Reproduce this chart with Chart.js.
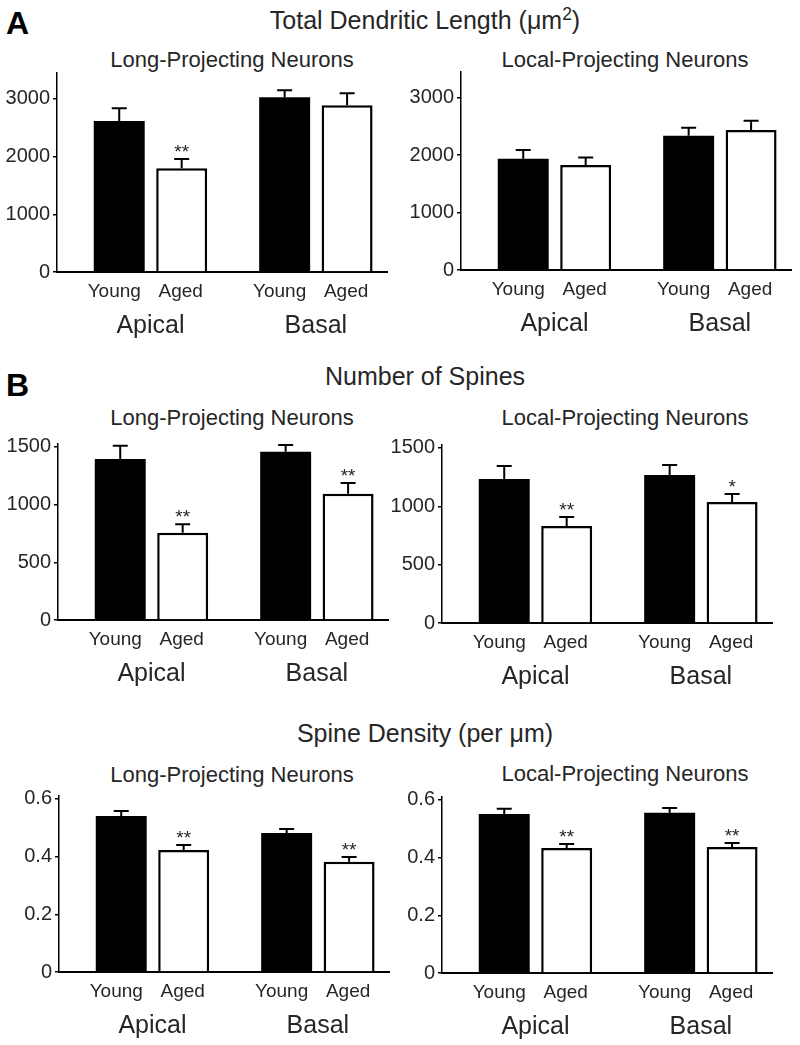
<!DOCTYPE html>
<html>
<head>
<meta charset="utf-8">
<script src="https://cdn.jsdelivr.net/npm/chart.js@4"></script>
<style>
    body {
        margin: 0;
        width: 800px;
        height: 1045px;
        position: relative;
        overflow: hidden;
        background: #fff;
        font-family: "Liberation Sans", Arial, sans-serif;
        color: #262626;
    }
    canvas { position: absolute; }
    .t {
        position: absolute;
        transform: translate(-50%, -50%);
        white-space: nowrap;
        line-height: 1;
    }
    .main { font-size: 25px; }
    .sub { font-size: 22px; }
    .letter { font-size: 32px; font-weight: bold; color: #000; transform: none; }
    sup { font-size: 0.7em; vertical-align: 0.5em; line-height: 0; }
</style>
</head>
<body>
<div class="t letter" style="left:6px;top:7px;">A</div>
<div class="t main" style="left:425px;top:20px;">Total Dendritic Length (μm<sup>2</sup>)</div>
<div class="t sub" style="left:232px;top:60px;">Long-Projecting Neurons</div>
<div class="t sub" style="left:625px;top:60px;">Local-Projecting Neurons</div>

<div class="t letter" style="left:6px;top:369px;">B</div>
<div class="t main" style="left:425px;top:376px;">Number of Spines</div>
<div class="t sub" style="left:232px;top:418px;">Long-Projecting Neurons</div>
<div class="t sub" style="left:625px;top:418px;">Local-Projecting Neurons</div>

<div class="t main" style="left:425px;top:733px;">Spine Density (per μm)</div>
<div class="t sub" style="left:232px;top:775px;">Long-Projecting Neurons</div>
<div class="t sub" style="left:625px;top:774px;">Local-Projecting Neurons</div>

<canvas id="c1"></canvas>
<canvas id="c2"></canvas>
<canvas id="c3"></canvas>
<canvas id="c4"></canvas>
<canvas id="c5"></canvas>
<canvas id="c6"></canvas>

<script>
// groups and ages
const groups = ["Apical", "Basal"];
const ages = ["Young", "Aged"];

// total dendritic length
const lengthLongYoung = [2620, 3030];
const lengthLongYoungSem = [220, 120];
const lengthLongAged = [1800, 2890];
const lengthLongAgedSem = [160, 210];
const lengthLongStars = ["**", ""];

const lengthLocalYoung = [1940, 2340];
const lengthLocalYoungSem = [150, 140];
const lengthLocalAged = [1830, 2440];
const lengthLocalAgedSem = [130, 160];
const lengthLocalStars = ["", ""];

// number of spines
const spinesLongYoung = [1395, 1457];
const spinesLongYoungSem = [114, 60];
const spinesLongAged = [755, 1093];
const spinesLongAgedSem = [75, 95];
const spinesLongStars = ["**", "**"];

const spinesLocalYoung = [1234, 1268];
const spinesLocalYoungSem = [111, 86];
const spinesLocalAged = [831, 1037];
const spinesLocalAgedSem = [77, 68];
const spinesLocalStars = ["**", "*"];

// spine density
const densityLongYoung = [0.541, 0.482];
const densityLongYoungSem = [0.017, 0.014];
const densityLongAged = [0.423, 0.382];
const densityLongAgedSem = [0.017, 0.017];
const densityLongStars = ["**", "**"];

const densityLocalYoung = [0.551, 0.555];
const densityLocalYoungSem = [0.018, 0.017];
const densityLocalAged = [0.433, 0.437];
const densityLocalAgedSem = [0.014, 0.014];
const densityLocalStars = ["**", "**"];

// tick labels
const lengthTicks = [0, 1000, 2000, 3000];
const spinesTicks = [0, 500, 1000, 1500];
const densityTicks = [0, 0.2, 0.4, 0.6];

Chart.defaults.font.family = "'Liberation Sans', Arial, sans-serif";
Chart.defaults.color = "#262626";

const FONT = "'Liberation Sans', Arial, sans-serif";
const AXIS_W = 56;
const PAD_TOP = 20;
const PAD_BOTTOM = 66;
const PAD_RIGHT = 8;
const PLOT_W = 330;

const extras = {
    id: "extras",
    afterDatasetsDraw(chart) {
        const ctx = chart.ctx;
        const yScale = chart.scales.y;
        const xScale = chart.scales.x;
        const area = chart.chartArea;

        ctx.save();
        chart.data.datasets.forEach((ds, i) => {
            const meta = chart.getDatasetMeta(i);
            meta.data.forEach((bar, j) => {
                const top = yScale.getPixelForValue(ds.data[j].y + ds.sem[j]);
                ctx.strokeStyle = "#000";
                ctx.lineWidth = 2;
                ctx.beginPath();
                ctx.moveTo(bar.x, bar.y);
                ctx.lineTo(bar.x, top);
                ctx.moveTo(bar.x - 7.5, top);
                ctx.lineTo(bar.x + 7.5, top);
                ctx.stroke();

                ctx.fillStyle = "#262626";
                ctx.textAlign = "center";
                if (ds.stars && ds.stars[j]) {
                    ctx.font = "19px " + FONT;
                    ctx.textBaseline = "alphabetic";
                    ctx.fillText(ds.stars[j], bar.x, top - 1);
                }
                ctx.font = "19px " + FONT;
                ctx.textBaseline = "middle";
                ctx.fillText(ds.label, bar.x - (i === 0 ? 5 : 1), area.bottom + 20);
            });
        });

        ctx.font = "25px " + FONT;
        ctx.textAlign = "center";
        ctx.textBaseline = "middle";
        ctx.fillStyle = "#262626";
        groups.forEach((g, j) => {
            ctx.fillText(g, xScale.getPixelForValue(j + 1), area.bottom + 54);
        });
        ctx.restore();
    }
};

function points(values) {
    return values.map((v, j) => ({ x: j + 1, y: v }));
}

function panel(id, pos, young, youngSem, aged, agedSem, stars, ticks, max) {
    const $canvas = document.getElementById(id);
    if (!$canvas) {
        return;
    }
    const plotH = pos.bottom - pos.top;
    $canvas.width = AXIS_W + PLOT_W + PAD_RIGHT;
    $canvas.height = PAD_TOP + plotH + PAD_BOTTOM;
    $canvas.style.left = (pos.left - AXIS_W) + "px";
    $canvas.style.top = (pos.top - PAD_TOP) + "px";

    new Chart($canvas.getContext("2d"), {
        type: "bar",
        data: {
            datasets: [
                {
                    label: ages[0],
                    data: points(young),
                    sem: youngSem,
                    backgroundColor: "#000",
                    borderColor: "#000",
                    borderWidth: 0,
                },
                {
                    label: ages[1],
                    data: points(aged),
                    sem: agedSem,
                    stars: stars,
                    backgroundColor: "#fff",
                    borderColor: "#000",
                    borderWidth: 2.5,
                },
            ],
        },
        options: {
            responsive: false,
            animation: false,
            devicePixelRatio: 1,
            categoryPercentage: 0.755,
            barPercentage: 0.816,
            layout: {
                padding: { top: PAD_TOP, bottom: PAD_BOTTOM, left: 0, right: PAD_RIGHT },
            },
            plugins: {
                legend: { display: false },
                tooltip: { enabled: false },
            },
            scales: {
                x: {
                    type: "linear",
                    offset: false,
                    min: 0.435,
                    max: 2.43,
                    afterBuildTicks(scale) {
                        scale.ticks = groups.map((g, j) => ({ value: j + 1 }));
                    },
                    grid: { display: false, offset: false },
                    ticks: { display: false },
                    border: { display: true, color: "#000", width: 2 },
                    afterFit(scale) { scale.height = 0; },
                },
                y: {
                    min: 0,
                    max: max,
                    afterBuildTicks(scale) {
                        scale.ticks = ticks.map(v => ({ value: v }));
                    },
                    afterFit(scale) { scale.width = AXIS_W; },
                    grid: {
                        display: true,
                        drawOnChartArea: false,
                        drawTicks: true,
                        tickLength: 4,
                        color: "#000",
                        lineWidth: 1.5,
                    },
                    border: { display: true, color: "#000", width: 1.5 },
                    ticks: {
                        padding: 3,
                        color: "#262626",
                        font: { size: 20 },
                        callback: v => String(v),
                    },
                },
            },
        },
        plugins: [extras],
    });
}

panel("c1", { left: 57, top: 73, bottom: 272 },
    lengthLongYoung, lengthLongYoungSem, lengthLongAged, lengthLongAgedSem, lengthLongStars, lengthTicks, 3450);
panel("c2", { left: 461, top: 72, bottom: 270 },
    lengthLocalYoung, lengthLocalYoungSem, lengthLocalAged, lengthLocalAgedSem, lengthLocalStars, lengthTicks, 3450);
panel("c3", { left: 58, top: 444, bottom: 620 },
    spinesLongYoung, spinesLongYoungSem, spinesLongAged, spinesLongAgedSem, spinesLongStars, spinesTicks, 1525);
panel("c4", { left: 442, top: 445, bottom: 623 },
    spinesLocalYoung, spinesLocalYoungSem, spinesLocalAged, spinesLocalAgedSem, spinesLocalStars, spinesTicks, 1525);
panel("c5", { left: 59, top: 796, bottom: 972 },
    densityLongYoung, densityLongYoungSem, densityLongAged, densityLongAgedSem, densityLongStars, densityTicks, 0.61);
panel("c6", { left: 442, top: 797, bottom: 973 },
    densityLocalYoung, densityLocalYoungSem, densityLocalAged, densityLocalAgedSem, densityLocalStars, densityTicks, 0.61);
</script>
</body>
</html>
